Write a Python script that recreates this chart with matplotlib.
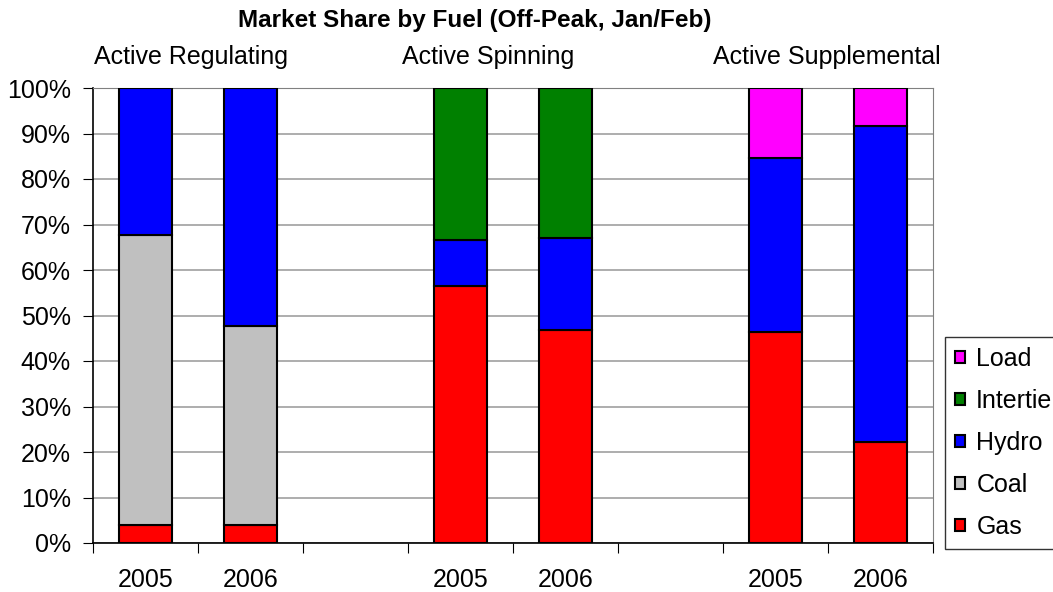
import numpy as np
import matplotlib.pyplot as plt

plt.rcParams['font.family'] = ['Liberation Sans', 'DejaVu Sans']

categories = ['2005', '2006', '', '2005', '2006', '', '2005', '2006']
groups = ['Active Regulating', 'Active Spinning', 'Active Supplemental']
gas = [3.9, 3.9, 0, 56.5, 46.9, 0, 46.4, 22.3]
coal = [63.9, 43.8, 0, 0, 0, 0, 0, 0]
hydro = [32.2, 52.3, 0, 10.2, 20.2, 0, 38.2, 69.3]
intertie = [0, 0, 0, 33.3, 32.9, 0, 0, 0]
load = [0, 0, 0, 0, 0, 0, 15.4, 8.4]

series = [('Gas', gas, '#ff0000'), ('Coal', coal, '#c0c0c0'),
          ('Hydro', hydro, '#0000ff'), ('Intertie', intertie, '#008000'),
          ('Load', load, '#ff00ff')]

fs = 18

fig = plt.figure(figsize=(10.53, 5.92), dpi=100)
ax = fig.add_axes([93/1053, 1-543/592, 840/1053, 455/592])

x = np.arange(len(categories))
bottom = np.zeros(len(categories))
handles = []
for name, vals, col in series:
    vals = np.array(vals, dtype=float)
    mask = vals > 0
    b = ax.bar(x[mask], vals[mask], 0.51, bottom=bottom[mask], color=col,
               edgecolor='black', linewidth=1.5, label=name, zorder=3)
    handles.append(b)
    bottom += vals

ax.set_xlim(-0.5, len(categories) - 0.5)
ax.set_ylim(0, 100)
ax.set_yticks(np.arange(0, 101, 10))
ax.set_yticklabels([f'{v}%' for v in range(0, 101, 10)], fontsize=fs)
ax.yaxis.grid(True, color='#a0a0a0', linewidth=1.2, zorder=0)
ax.set_xticks(np.arange(-0.5, len(categories), 1))
ax.set_xticklabels([])
ax.set_xticks(x, minor=True)
ax.set_xticklabels(categories, minor=True, fontsize=fs)
ax.tick_params(axis='x', which='minor', length=0, pad=18)
ax.tick_params(axis='x', which='major', length=7, color='black', direction='out')
ax.tick_params(axis='y', length=7, color='black', direction='out', pad=9)
for s in ['top', 'right']:
    ax.spines[s].set_color('#808080')
for s in ['left', 'bottom']:
    ax.spines[s].set_color('black')
    ax.spines[s].set_linewidth(1.2)

fig.text(475/1053, 1-20/592, 'Market Share by Fuel (Off-Peak, Jan/Feb)',
         ha='center', va='center', fontsize=17.5, fontweight='bold')
for gx, g in zip([191, 488, 827], groups):
    fig.text(gx/1053, 1-57/592, g, ha='center', va='center', fontsize=fs)

leg = fig.legend(handles[::-1], [s[0] for s in series][::-1],
                 loc='upper left', bbox_to_anchor=(945/1053, 1-337/592),
                 fontsize=fs, frameon=True, fancybox=False, edgecolor='black',
                 handlelength=0.4, handleheight=0.4, handletextpad=0.45,
                 labelspacing=0.72, borderpad=0.4, borderaxespad=0)
leg.get_frame().set_linewidth(1.0)

fig.savefig('out.png', dpi=100)
